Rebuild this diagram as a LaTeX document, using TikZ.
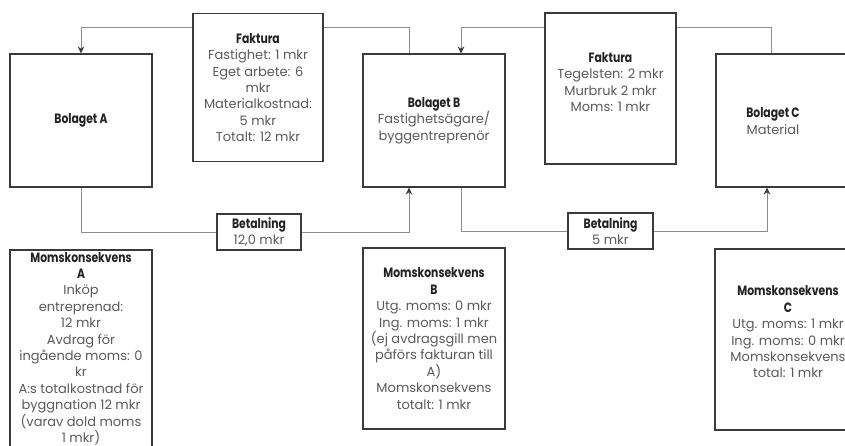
\documentclass[tikz,border=0pt]{standalone}
\usepackage{fontspec}
\setmainfont{Poppins}
\newfontfamily\bfam{Poppins}[FakeStretch=0.8]
\usetikzlibrary{arrows.meta,calc}
\definecolor{txt}{HTML}{5A5A5A}
\definecolor{ttl}{HTML}{222222}
\definecolor{bdr}{HTML}{3A3A3A}
\definecolor{lin}{HTML}{8C8C8C}
\newcommand{\tb}[1]{{\bfam\fontsize{13.5}{16.4}\selectfont\bfseries\color{ttl}#1}}
\newcommand{\fs}{\fontsize{13}{16.4}\selectfont}
\tikzset{
  box/.style={draw=bdr, line width=1.1pt, fill=white, minimum width=142pt, minimum height=133pt, inner sep=0pt, align=center, text=txt, font=\fs},
  lbl/.style={align=center, text=txt, font=\fs, inner sep=0pt},
  conn/.style={draw=lin, line width=0.9pt},
  arr/.style={-{Stealth[length=7pt,width=6.5pt,color=bdr]}},
}
\begin{document}
\begin{tikzpicture}[x=1pt,y=-1pt]
\useasboundingbox (0,0) rectangle (845,446);
\clip (0,0) rectangle (845,446);
\coordinate (top) at (0,27);
% boxes
\node[box] (A) at (81,120.5) {\tb{Bolaget A}};
\node[box, minimum width=130pt, minimum height=148pt] (f1) at (258,87.5)
  {\tb{Faktura}\\Fastighet: 1 mkr\\Eget arbete: 6\\mkr\\Materialkostnad:\\5 mkr\\Totalt: 12 mkr};
\node[box] (B) at (434,120.5) {\tb{Bolaget B}\\Fastighetsägare/\\byggentreprenör};
\node[box, minimum width=131pt, minimum height=151pt] (f2) at (610.5,88.5) {};
\node[lbl] (f2t) at (610.5,82) {\tb{Faktura}\\Tegelsten: 2 mkr\\Murbruk 2 mkr\\Moms: 1 mkr};
\node[box] (C) at (787,120.5) {};
\node[lbl] (Ct) at (773,121) {\tb{Bolaget C}\\Material};
\node[box, minimum width=84pt, minimum height=36pt] (p1) at (259,232) {\tb{Betalning}\\12,0 mkr};
\node[box, minimum width=85pt, minimum height=36pt] (p2) at (610.5,231) {\tb{Betalning}\\5 mkr};
\node[box, minimum height=220pt] (mA) at (81,360) {};
\node[lbl, anchor=north] (mAt) at (81,252)
  {\tb{Momskonsekvens}\\\tb{A}\\Inköp\\entreprenad:\\12 mkr\\Avdrag för\\ingående moms: 0\\kr\\A:s totalkostnad för\\byggnation 12 mkr\\(varav dold moms\\1 mkr)};
\node[box, minimum height=181pt] (mB) at (434,338.5)
  {\tb{Momskonsekvens}\\\tb{B}\\Utg. moms: 0 mkr\\Ing. moms: 1 mkr\\(ej avdragsgill men\\påförs fakturan till\\A)\\Momskonsekvens\\totalt: 1 mkr};
\node[box, minimum width=145pt, minimum height=181pt] (mC) at (787.5,339.5) {};
\node[lbl] (mCt) at (788,332)
  {\tb{Momskonsekvens}\\\tb{C}\\Utg. moms: 1 mkr\\Ing. moms: 0 mkr\\Momskonsekvens\\total: 1 mkr};
% connectors
\draw[conn,arr] (f1.west |- top) -| (A.north);
\draw[conn] (f1.east |- top) -| ([xshift=-25pt]B.north);
\draw[conn,arr] (f2.west |- top) -| ([xshift=27pt]B.north);
\draw[conn] (f2.east |- top) -| ([xshift=-16pt]C.north);
\draw[conn] (A.south) |- (p1.west);
\draw[conn,arr] (p1.east) -| ([xshift=-25pt]B.south);
\draw[conn] ([xshift=27pt]B.south) |- (p2.west);
\draw[conn,arr] (p2.east) -| ([xshift=-20pt]C.south);
\end{tikzpicture}
\end{document}
